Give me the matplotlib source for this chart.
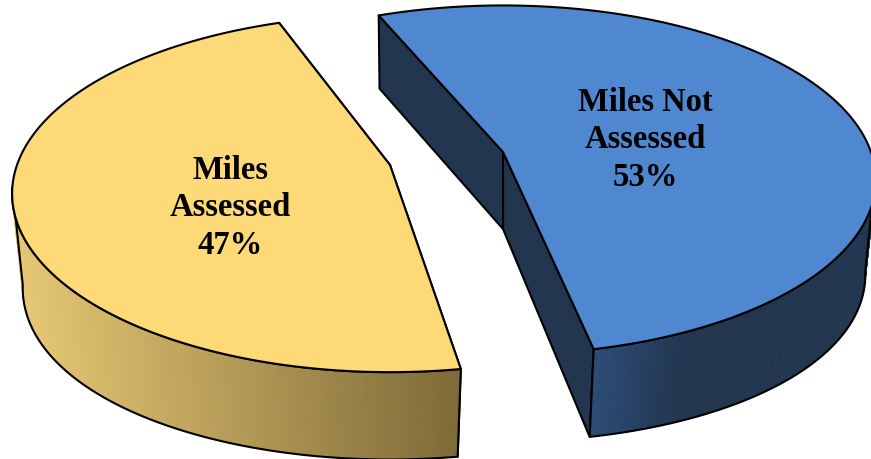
"""
Pie 3D eclate : Miles Assessed / Miles Not Assessed
Camembert dessine a la main (perspective d'un disque) car matplotlib n'a pas de pie 3D
"""

import numpy as np
import matplotlib
matplotlib.use('Agg')
import matplotlib.pyplot as plt
from matplotlib.patches import Polygon
from matplotlib.collections import PolyCollection
from matplotlib.colors import to_rgb

# Donnees
labels = ['Miles\nAssessed', 'Miles Not\nAssessed']
shares = [47, 53]

# Style de chaque part
start_deg = [110.0, -78.0]
apex = [(390, 166), (503, 153)]
half_width = [373, 368]
half_depth = [174, 170]
top_color = ['#FDD978', '#4F88D0']
wall_light = ['#E6C874', '#2C4C76']
wall_dark = ['#7F6B38', '#22364F']
cut_color = ['#7F6B38', '#22364F']
label_xy = [(230, 208), (645, 140)]

K = 0.16            # perspective du disque
DROP = 77           # epaisseur au centre
SCALE_X = 0.975     # disque du bas
TILT_X = 0.02
SCALE_Y = 1.05
BULGE_Y = 20


def project(t, a, b, cx, cy):
    """Point du cercle unite (angle t) vers les pixels du disque en perspective."""
    w = 1 + K * np.sin(t)
    return np.column_stack((cx + a * np.cos(t) / w, cy - b * np.sin(t) / w))


def lower(t, a, b, cx, cy):
    w = 1 + K * np.sin(t)
    c2 = np.cos(t) ** 2
    return np.column_stack((cx + (SCALE_X + TILT_X * np.sin(t)) * a * np.cos(t) / w,
                            cy + DROP + BULGE_Y * c2 - SCALE_Y * b * np.sin(t) / w))


fig = plt.figure(figsize=(8.71, 4.6), dpi=100)
ax = fig.add_axes([0, 0, 1, 1])
ax.set_xlim(0, 871)
ax.set_ylim(460, 0)
ax.axis('off')

EDGE = dict(edgecolor='black', linewidth=1.5, joinstyle='round')

for i, share in enumerate(shares):
    sweep = np.radians(share * 3.6)
    t0 = np.radians(start_deg[i])
    t = np.linspace(t0, t0 + sweep, 240)
    cx, cy = apex[i]
    a = half_width[i]
    b = half_depth[i]
    top = project(t, a, b, cx, cy)
    bot = lower(t, a, b, cx, cy)
    c_low = np.array([cx, cy + DROP])

    # faces de coupe
    for end in (0, -1):
        cut = np.vstack(([cx, cy], top[end], bot[end], c_low))
        ax.add_patch(Polygon(cut, closed=True, facecolor=cut_color[i], zorder=2 + i * 3, **EDGE))

    # paroi exterieure, seulement la partie avant
    front = np.sin(t) < -0.12
    tf, bf = top[front], bot[front]
    quads = [[tf[j], tf[j + 1], bf[j + 1], bf[j]] for j in range(len(tf) - 1)]
    xs = tf[:-1, 0]
    if i == 0:
        frac = (xs - xs.min()) / (xs.max() - xs.min())
    else:
        frac = np.clip((xs - xs.min()) / 90, 0, 1)
    light, dark = np.array(to_rgb(wall_light[i])), np.array(to_rgb(wall_dark[i]))
    cols = [light + (dark - light) * f for f in frac]
    ax.add_collection(PolyCollection(quads, facecolors=cols, edgecolors=cols, linewidths=0.6,
                                     zorder=3 + i * 3))
    ax.add_patch(Polygon(np.vstack((tf, bf[::-1])), closed=True, facecolor='none',
                         zorder=3 + i * 3, **EDGE))

    # dessus
    outline = np.vstack(([cx, cy], top))
    ax.add_patch(Polygon(outline, closed=True, facecolor=top_color[i], zorder=4 + i * 3, **EDGE))

    ax.text(label_xy[i][0], label_xy[i][1], f'{labels[i]}\n{share}%', ha='center', va='center',
            family='Liberation Serif', fontweight='bold', fontsize=23.5, linespacing=1.28,
            color='black', zorder=10)

plt.savefig('out.png', dpi=100)
plt.close()
